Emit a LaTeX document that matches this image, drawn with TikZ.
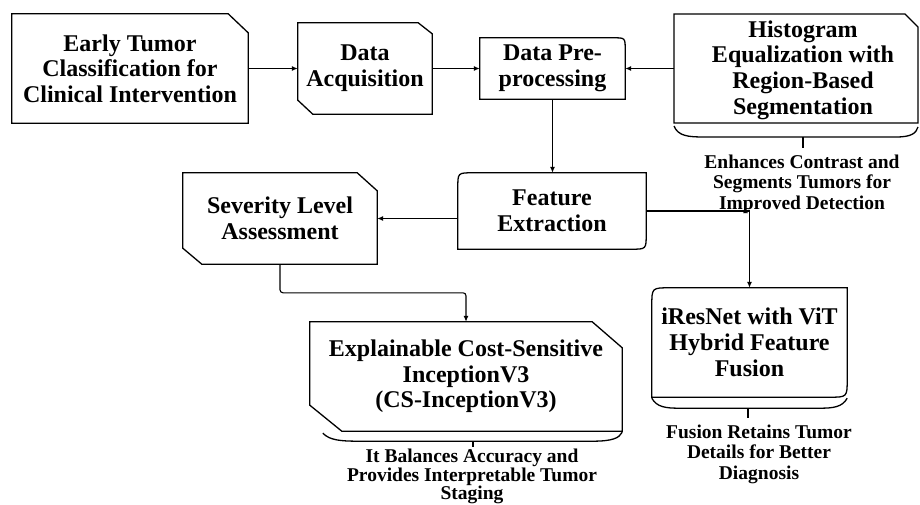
\documentclass[tikz,border=0pt]{standalone}
\usepackage{fontspec}
\setmainfont{Liberation Serif}
\usetikzlibrary{calc,arrows.meta}
\tikzset{
  txt/.style={font=\bfseries\fontsize{24}{25.7}\selectfont, align=center, inner sep=0pt, rectangle},
  capt/.style={font=\bfseries\fontsize{19.5}{20.2}\selectfont, align=center, inner xsep=0pt, anchor=north},
  outline/.style={draw=black, line width=1.3pt, line join=miter},
  arr/.style={draw=black, line width=1.1pt, -{Latex[length=6pt,width=5pt]}}
}
\begin{document}
\begin{tikzpicture}[x=1pt,y=-1pt]
\useasboundingbox (0,0) rectangle (920,505);
\fill[white] (0,0) rectangle (920,505);

% nodes
\node[txt, minimum width=236pt, minimum height=109pt] (early) at (130,68.5) {Early Tumor\\Classification for\\Clinical Intervention};
\node[txt, minimum width=134pt, minimum height=91pt] (acq) at (365,68.5) {Data\\Acquisition};
\node[txt, minimum width=145pt, minimum height=61pt] (pre) at (552.5,68.5) {Data Pre-\\processing};
\node[txt, minimum width=230pt, minimum height=109pt] (hist) at (803,70) {Histogram\\Equalization with\\Region-Based\\Segmentation};
\coordinate (histL) at (674,68.5);
\node[txt, minimum width=188pt, minimum height=76pt] (fe) at (552,211) {Feature\\Extraction};
\node[txt, minimum width=194pt, minimum height=91pt] (sev) at (280,218.5) {Severity Level\\Assessment};
\node[txt, minimum width=312pt, minimum height=109pt] (exp) at (466,376.5) {Explainable Cost-Sensitive\\InceptionV3\\(CS-InceptionV3)};
\node[txt, minimum width=195pt, minimum height=109pt] (irn) at (749.5,342.5) {iResNet with ViT\\Hybrid Feature\\Fusion};

\node[capt, inner ysep=7pt] (histcap) at (802,148) {Enhances Contrast and\\Segments Tumors for\\Improved Detection};
\node[capt, inner ysep=2pt, font=\bfseries\fontsize{19.5}{18.5}\selectfont] (expcap) at (472,447) {It Balances Accuracy and\\Provides Interpretable Tumor\\Staging};
\node[capt, inner ysep=7pt] (irncap) at (759,418) {Fusion Retains Tumor\\Details for Better\\Diagnosis};

% outlines
\draw[outline] (early.south west) -- (early.north west) -- ($(early.north east)+(-20,0)$) -- ($(early.north east)+(0,19)$) -- (early.south east) -- cycle;
\draw[outline] ($(acq.south west)+(0,-14)$) -- (acq.north west) -- ($(acq.north east)+(-14,0)$) -- ($(acq.north east)+(0,11)$) -- (acq.south east) -- ($(acq.south west)+(15,0)$) -- cycle;
\draw[outline] (pre.south west) -- (pre.north west) -- ($(pre.north east)+(-12,0)$) .. controls (pre.north east) .. ($(pre.north east)+(0,12)$) -- (pre.south east) -- cycle;
\draw[outline] (674,123) -- (674,14) -- (905,14) -- (918,27) -- (918,123) -- cycle;
\draw[outline] (674,126) .. controls (678,136) and (688,137) .. (704,137) -- (896,137) .. controls (912,137) and (916,133) .. (918,127);
\draw[outline] (fe.south west) -- ($(fe.north west)+(0,15)$) .. controls (fe.north west) .. ($(fe.north west)+(15,0)$) -- (fe.north east) -- ($(fe.south east)+(0,-15)$) .. controls (fe.south east) .. ($(fe.south east)+(-15,0)$) -- cycle;
\draw[outline] ($(sev.south west)+(0,-16)$) -- (sev.north west) -- ($(sev.north east)+(-20,0)$) -- ($(sev.north east)+(0,18)$) -- (sev.south east) -- ($(sev.south west)+(19,0)$) -- cycle;
\draw[outline] ($(exp.south west)+(0,-26)$) -- (exp.north west) -- ($(exp.north east)+(-30,0)$) -- ($(exp.north east)+(0,26)$) -- (exp.south east) -- ($(exp.south west)+(32,0)$) -- cycle;
\draw[outline] ($(exp.south west)+(13,2)$) .. controls ($(exp.south west)+(20,9)$) and ($(exp.south west)+(30,10)$) .. ($(exp.south west)+(50,10)$) -- ($(exp.south east)+(-30,10)$) .. controls ($(exp.south east)+(-10,10)$) and ($(exp.south east)+(-3,7)$) .. ($(exp.south east)+(0,1)$);
\draw[outline] (irn.south west) -- ($(irn.north west)+(0,18)$) .. controls (irn.north west) .. ($(irn.north west)+(18,0)$) -- (irn.north east) -- ($(irn.south east)+(0,-18)$) .. controls (irn.south east) .. ($(irn.south east)+(-18,0)$) -- cycle;
\draw[outline] ($(irn.south west)+(0,1)$) .. controls ($(irn.south west)+(5,10)$) and ($(irn.south west)+(14,11)$) .. ($(irn.south west)+(28,11)$) -- ($(irn.south east)+(-28,11)$) .. controls ($(irn.south east)+(-14,11)$) and ($(irn.south east)+(-5,10)$) .. ($(irn.south east)+(0,1)$);

% ticks
\coordinate (histtick) at (803,137);
\coordinate (exptick) at (473,441);
\coordinate (irntick) at (748,408);
\draw[outline] (histtick) -- (histtick |- histcap.north);
\draw[outline] (exptick) -- (exptick |- expcap.north);
\draw[outline] (irntick) -- (irntick |- irncap.north);

% connectors
\draw[arr] (early.east) -- (acq.west);
\draw[arr] (acq.east) -- (pre.west);
\draw[arr] (histL) -- (pre.east);
\draw[arr] (pre.south) -- (pre.south |- fe.north);
\draw[arr] (fe.west |- sev.east) -- (sev.east);
\draw[arr] (fe.east) -| (irn.north);
\draw[arr, rounded corners=3pt] (sev.south) |- ($(exp.north)+(0,-29)$) -- (exp.north);
\end{tikzpicture}
\end{document}
